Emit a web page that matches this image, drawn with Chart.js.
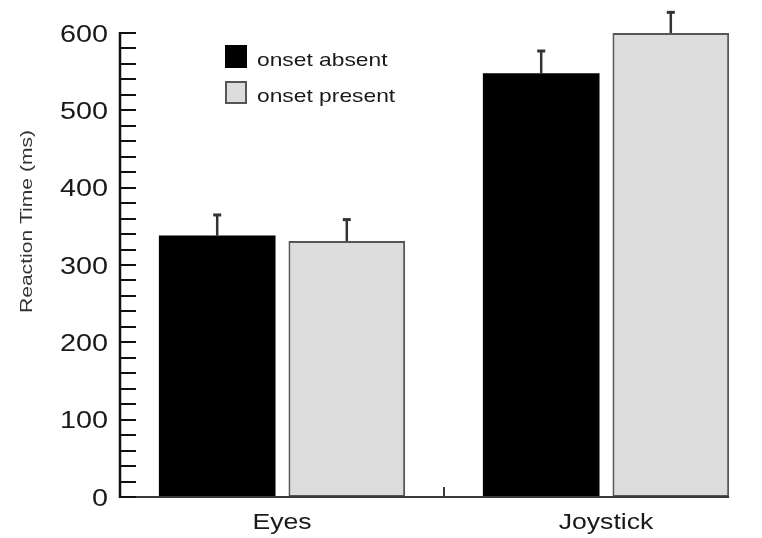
<!DOCTYPE html>
<html>
<head>
<meta charset="utf-8">
<script src="https://cdn.jsdelivr.net/npm/chart.js@4"></script>
<style>
  html, body { margin: 0; padding: 0; background: #fff; overflow: hidden; }
  #wrap { width: 762px; height: 538px; overflow: hidden; position: relative; }
  canvas { display: block; }
</style>
</head>
<body>
<div id="wrap"><canvas id="c" width="800" height="538"></canvas></div>
<script>
// ---- data ----
const categories = ['Eyes', 'Joystick'];
const seriesLabels = ['onset absent', 'onset present'];
const absentMeans = [338, 548];
const absentErr = [28, 30];
const presentMeans = [331, 600];
const presentErr = [29, 28];
const yTickValues = [0, 100, 200, 300, 400, 500, 600];
const yMinorStep = 20;
const yTitle = 'Reaction Time (ms)';

const FONT = '"Liberation Sans", Arial, Helvetica, sans-serif';

function stretchedText(ctx, text, x, y, sizePx, sx, align, color) {
  ctx.save();
  ctx.font = sizePx + 'px ' + FONT;
  ctx.textAlign = 'left';
  ctx.textBaseline = 'alphabetic';
  ctx.fillStyle = color || '#1a1a1a';
  const w = ctx.measureText(text).width * sx;
  let x0 = x;
  if (align === 'right') x0 = x - w;
  else if (align === 'center') x0 = x - w / 2;
  ctx.translate(x0, y);
  ctx.scale(sx, 1);
  ctx.fillText(text, 0, 0);
  ctx.restore();
}

const errors = [absentErr, presentErr];

const decorPlugin = {
  id: 'decor',
  afterDatasetsDraw(chart) {
    const ctx = chart.ctx;
    const xs = chart.scales.x, ys = chart.scales.y;
    const area = chart.chartArea;
    ctx.save();
    // error bars
    chart.data.datasets.forEach((ds, i) => {
      const meta = chart.getDatasetMeta(i);
      meta.data.forEach((el, j) => {
        const top = ys.getPixelForValue(ds.data[j] + errors[i][j]);
        ctx.strokeStyle = '#333';
        ctx.lineWidth = 2.5;
        ctx.beginPath();
        ctx.moveTo(el.x, el.y);
        ctx.lineTo(el.x, top);
        ctx.stroke();
        ctx.lineWidth = 3;
        ctx.beginPath();
        ctx.moveTo(el.x - 4, top + 1);
        ctx.lineTo(el.x + 4, top + 1);
        ctx.stroke();
      });
    });
    // x axis line to right edge of last bar
    const lastMeta = chart.getDatasetMeta(chart.data.datasets.length - 1);
    const lastBar = lastMeta.data[lastMeta.data.length - 1];
    ctx.strokeStyle = '#3a3a3a';
    ctx.lineWidth = 2;
    ctx.beginPath();
    ctx.moveTo(area.left, area.bottom);
    ctx.lineTo(lastBar.x + lastBar.width / 2, area.bottom);
    ctx.stroke();
    // category divider tick
    const mid = (xs.getPixelForValue(0) + xs.getPixelForValue(1)) / 2;
    ctx.beginPath();
    ctx.moveTo(mid, area.bottom);
    ctx.lineTo(mid, area.bottom - 10);
    ctx.stroke();
    // y axis line
    ctx.strokeStyle = '#111';
    ctx.lineWidth = 2.5;
    ctx.beginPath();
    ctx.moveTo(area.left, ys.getPixelForValue(ys.max) - 1);
    ctx.lineTo(area.left, area.bottom + 1);
    ctx.stroke();
    // inward ticks every yMinorStep
    ctx.lineWidth = 2;
    for (let v = ys.min; v <= ys.max; v += yMinorStep) {
      const py = Math.round(ys.getPixelForValue(v));
      ctx.beginPath();
      ctx.moveTo(area.left, py);
      ctx.lineTo(area.left + 16, py);
      ctx.stroke();
    }
    ctx.restore();
  },
  afterDraw(chart) {
    const ctx = chart.ctx;
    const xs = chart.scales.x, ys = chart.scales.y;
    const area = chart.chartArea;
    // y tick labels
    yTickValues.forEach(v => {
      const py = ys.getPixelForValue(v);
      stretchedText(ctx, String(v), area.left - 12, py + 8.6, 24, 1.2, 'right', '#1a1a1a');
    });
    // x category labels
    categories.forEach((c, i) => {
      stretchedText(ctx, c, xs.getPixelForValue(i), area.bottom + 32, 22, 1.21, 'center', '#1a1a1a');
    });
    // y title (rotated)
    ctx.save();
    ctx.translate(32, 221.5);
    ctx.rotate(-Math.PI / 2);
    ctx.scale(1.24, 1);
    ctx.font = '17px ' + FONT;
    ctx.fillStyle = '#333';
    ctx.textAlign = 'center';
    ctx.textBaseline = 'alphabetic';
    ctx.fillText(yTitle, 0, 0);
    ctx.restore();
    // legend
    const lx = 225, ly = [45, 81];
    chart.data.datasets.forEach((ds, i) => {
      ctx.save();
      ctx.fillStyle = ds.backgroundColor;
      ctx.fillRect(lx, ly[i], 22, 23);
      if (ds.borderWidth) {
        ctx.strokeStyle = ds.borderColor;
        ctx.lineWidth = 2;
        ctx.strokeRect(lx + 1, ly[i] + 1, 20, 21);
      }
      ctx.restore();
      stretchedText(ctx, ds.label, lx + 32, ly[i] + 21, 19, 1.2, 'left', '#1a1a1a');
    });
  }
};

new Chart(document.getElementById('c'), {
  type: 'bar',
  data: {
    labels: categories,
    datasets: [
      {
        label: seriesLabels[0],
        data: absentMeans,
        backgroundColor: '#000000',
        borderWidth: 0,
        categoryPercentage: 0.8,
        barPercentage: 0.9
      },
      {
        label: seriesLabels[1],
        data: presentMeans,
        backgroundColor: '#dcdcdc',
        borderColor: '#555555',
        borderWidth: 2,
        borderSkipped: false,
        categoryPercentage: 0.8,
        barPercentage: 0.9
      }
    ]
  },
  options: {
    responsive: false,
    animation: false,
    devicePixelRatio: 1,
    layout: { padding: { left: 0, right: 32, top: 33, bottom: 0 } },
    plugins: { legend: { display: false }, tooltip: { enabled: false } },
    scales: {
      x: {
        type: 'category',
        offset: true,
        grid: { display: false },
        border: { display: false },
        ticks: { display: false },
        afterFit: s => { s.height = 41; }
      },
      y: {
        min: 0,
        max: 600,
        grid: { display: false },
        border: { display: false },
        ticks: { display: false, stepSize: 100 },
        afterFit: s => { s.width = 120; }
      }
    }
  },
  plugins: [decorPlugin]
});
</script>
</body>
</html>
